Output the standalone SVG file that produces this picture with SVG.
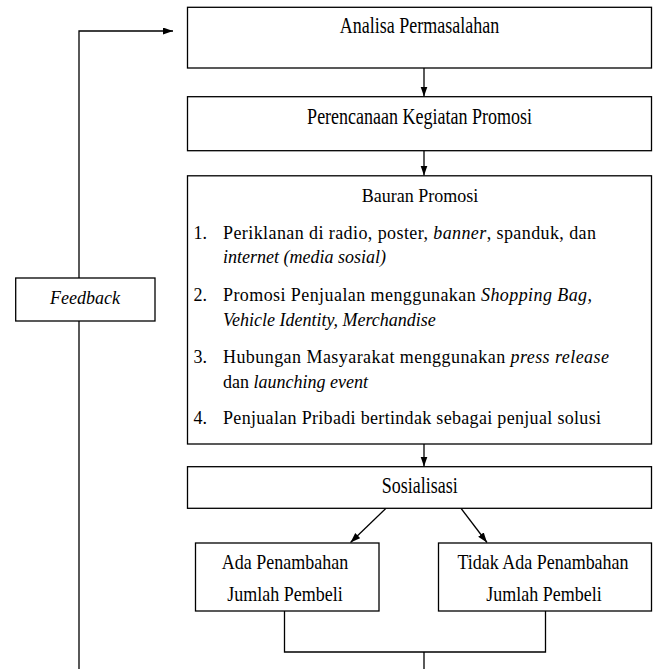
<svg xmlns="http://www.w3.org/2000/svg" width="653" height="669" viewBox="0 0 653 669">
<style>
.box{fill:#fff;stroke:#000;stroke-width:1.3}
.ln{fill:none;stroke:#000;stroke-width:1.3}
.t{font-family:"Liberation Serif","Times New Roman",serif;font-size:18px;fill:#000}
.c{text-anchor:middle}
.i{font-style:italic}
</style>
<defs>
<marker id="ah" markerUnits="userSpaceOnUse" markerWidth="11" markerHeight="8" refX="10" refY="3.5" orient="auto">
<path d="M0,0 L10,3.5 L0,7 z" fill="#000"/>
</marker>
</defs>
<rect width="653" height="669" fill="#fff"/>
<g id="connectors">
<path class="ln" d="M79,669 V31 H173" marker-end="url(#ah)"/>
<path class="ln" d="M424,68 V96.5" marker-end="url(#ah)"/>
<path class="ln" d="M424,151 V175.5" marker-end="url(#ah)"/>
<path class="ln" d="M424,444 V466.5" marker-end="url(#ah)"/>
<path class="ln" d="M386,508.3 L350.5,542.5" marker-end="url(#ah)"/>
<path class="ln" d="M461,508.3 L487,542.5" marker-end="url(#ah)"/>
<path class="ln" d="M284.5,611 V652 H545.5 V611"/>
<path class="ln" d="M424,652 V669"/>
</g>
<g id="analisa">
<rect class="box" x="187.5" y="7.3" width="464" height="60.7"/>
<text class="t c" transform="translate(419.5,33.3) scale(1,1.25)">Analisa Permasalahan</text>
</g>
<g id="perencanaan">
<rect class="box" x="187.5" y="96.7" width="464" height="54"/>
<text class="t c" transform="translate(419.5,124) scale(1,1.25)">Perencanaan Kegiatan Promosi</text>
</g>
<g id="bauran">
<rect class="box" x="187.5" y="175.8" width="464" height="268.2"/>
<text class="t c" x="420" y="202.3">Bauran Promosi</text>
<text class="t" x="193.5" y="238.5">1.</text>
<text class="t" x="223" y="238.5" textLength="373" lengthAdjust="spacing">Periklanan di radio, poster, <tspan class="i">banner</tspan>, spanduk, dan</text>
<text class="t i" x="223" y="262.5">internet (media sosial)</text>
<text class="t" x="193.5" y="300.7">2.</text>
<text class="t" x="223" y="300.7" textLength="369" lengthAdjust="spacing">Promosi Penjualan menggunakan <tspan class="i">Shopping Bag,</tspan></text>
<text class="t i" x="223" y="325.5">Vehicle Identity, Merchandise</text>
<text class="t" x="193.5" y="363.3">3.</text>
<text class="t" x="223" y="363.3" textLength="386" lengthAdjust="spacing">Hubungan Masyarakat menggunakan <tspan class="i">press release</tspan></text>
<text class="t" x="223" y="387.5">dan <tspan class="i">launching event</tspan></text>
<text class="t" x="193.5" y="424">4.</text>
<text class="t" x="223" y="424" textLength="378" lengthAdjust="spacing">Penjualan Pribadi bertindak sebagai penjual solusi</text>
</g>
<g id="sosialisasi">
<rect class="box" x="187.5" y="466.7" width="464" height="41.6"/>
<text class="t c" transform="translate(419.7,493.3) scale(1,1.25)">Sosialisasi</text>
</g>
<g id="ada">
<rect class="box" x="195.5" y="543" width="183.5" height="68"/>
<text class="t c" transform="translate(285,569.3) scale(1,1.15)">Ada Penambahan</text>
<text class="t c" transform="translate(285,600.7) scale(1,1.15)">Jumlah Pembeli</text>
</g>
<g id="tidak">
<rect class="box" x="438.5" y="543" width="213" height="68"/>
<text class="t c" transform="translate(543,569.3) scale(1,1.15)">Tidak Ada Penambahan</text>
<text class="t c" transform="translate(544,600.7) scale(1,1.15)">Jumlah Pembeli</text>
</g>
<g id="feedback">
<rect class="box" x="15.7" y="278" width="139.3" height="43"/>
<text class="t c i" x="85" y="304.3">Feedback</text>
</g>
</svg>
